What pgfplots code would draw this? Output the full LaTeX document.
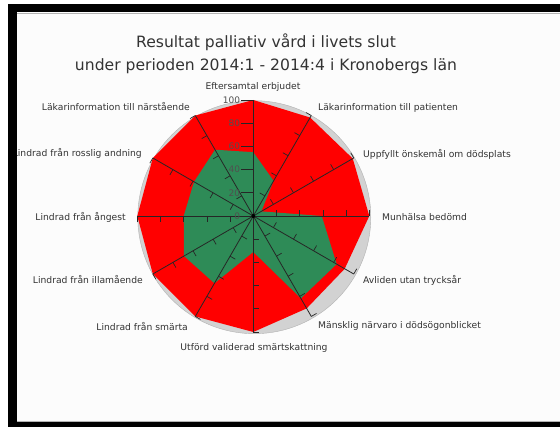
\documentclass[border=0pt]{standalone}
\usepackage{fontspec}
\setmainfont{DejaVu Sans}
\usepackage{pgfplots}
\pgfplotsset{compat=1.18}
\usepgfplotslibrary{polar}

\definecolor{hcgreen}{HTML}{2E8B57}
\definecolor{hcred}{HTML}{FF0000}
\definecolor{shadowgray}{HTML}{D2D2D2}
\definecolor{labelgray}{HTML}{333333}
\definecolor{tickgray}{HTML}{505050}
\definecolor{innerbg}{HTML}{FCFCFC}

\begin{document}
\begin{tikzpicture}[x=1pt,y=1pt]
  \useasboundingbox (0,0) rectangle (560,427);
  \fill[white] (0,0) rectangle (560,427);
  \fill[innerbg] (17,5) rectangle (560,415);

  %% --- title ---
  \node[font=\fontsize{15.6}{18}\selectfont, text=labelgray] at (266,385)
    {Resultat palliativ vård i livets slut};
  \node[font=\fontsize{15.6}{18}\selectfont, text=labelgray] at (266,361)
    {under perioden 2014:1 - 2014:4 i Kronobergs län};

  \begin{polaraxis}[
      at={(253.3pt,211pt)}, anchor=center,
      width=232pt, height=232pt, scale only axis,
      ymin=0, ymax=100, xmin=0, xmax=360,
      hide axis, clip=false
    ]

    %% --- pane shadow ---
    \fill[shadowgray, draw=gray!60] (axis cs:0,0) ++(1pt,-1.2pt) circle[radius=116.5pt];

    %% --- upper series (red), clockwise from the top ---
    \addplot[fill=hcred, draw=none] coordinates {
      (90,100) (60,98) (30,99) (0,100) (330,91) (300,92)
      (270,100) (240,100) (210,100) (180,100) (150,100) (120,100) (90,100)
    };

    %% --- lower series (green) ---
    \addplot[fill=hcgreen, draw=none] coordinates {
      (90,55) (60,35) (30,8) (0,59) (330,83) (300,82)
      (270,31) (240,67) (210,69) (180,60) (150,59) (120,66) (90,55)
    };

    %% --- spokes and their ticks ---
    \pgfplotsinvokeforeach{0,30,...,330}{
      \draw[black!85, line width=0.8pt] (axis cs:#1,0) -- (axis cs:#1,100);
      \draw[black!85, line width=0.7pt] (axis cs:#1,20) -- ++(#1+90:6pt);
      \draw[black!85, line width=0.7pt] (axis cs:#1,40) -- ++(#1+90:6pt);
      \draw[black!85, line width=0.7pt] (axis cs:#1,60) -- ++(#1+90:6pt);
      \draw[black!85, line width=0.7pt] (axis cs:#1,80) -- ++(#1+90:6pt);
      \draw[black!85, line width=0.7pt] (axis cs:#1,100) -- ++(#1+90:6pt);
    }
    \pgfplotsinvokeforeach{0,20,...,100}{
      \draw[black!85, line width=0.7pt] (axis cs:90,#1) -- ++(-12pt,0pt);
      \node[anchor=east, inner sep=1pt, text=tickgray,
            font=\fontsize{9}{10}\selectfont]
        at (axis cs:90,#1) [xshift=-12pt] {#1};
    }
    \fill[black] (axis cs:0,0) circle[radius=2pt];
  \end{polaraxis}

  %% --- category labels ---
  \begin{scope}[every node/.style={text=labelgray, inner sep=0pt,
      font=\fontsize{9.2}{11}\selectfont}]
    \node[anchor=center] at (253,340) {Eftersamtal erbjudet};
    \node[anchor=west] at (318,319) {Läkarinformation till patienten};
    \node[anchor=west] at (363,273) {Uppfyllt önskemål om dödsplats};
    \node[anchor=west] at (382,210) {Munhälsa bedömd};
    \node[anchor=west] at (363,147) {Avliden utan trycksår};
    \node[anchor=west] at (318,101) {Mänsklig närvaro i dödsögonblicket};
    \node[anchor=center] at (254,79) {Utförd validerad smärtskattning};
    \node[anchor=east] at (188,100) {Lindrad från smärta};
    \node[anchor=east] at (143,147) {Lindrad från illamående};
    \node[anchor=east] at (126,210) {Lindrad från ångest};
    \node[anchor=east] at (142,274) {Lindrad från rosslig andning};
    \node[anchor=east] at (190,320) {Läkarinformation till närstående};
  \end{scope}

  %% --- screenshot frame ---
  \fill[black] (8,0) rectangle (17,423);
  \fill[black] (8,415) rectangle (560,423);
  \fill[black] (8,0) rectangle (560,5);
  \draw[gray!60, line width=1pt] (17,413.5) -- (560,413.5);
  \draw[gray!60, line width=1pt] (17,5.5) -- (560,5.5);
\end{tikzpicture}
\end{document}
